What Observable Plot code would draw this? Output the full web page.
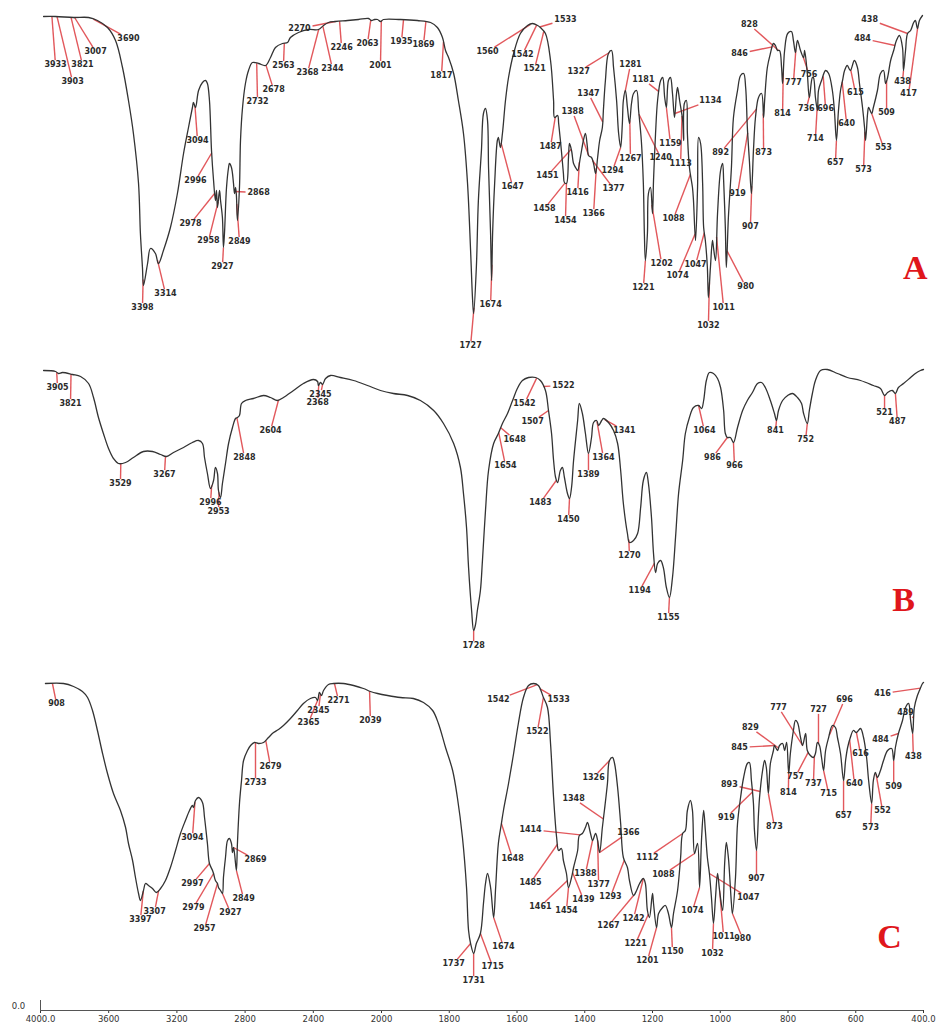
<!DOCTYPE html>
<html><head><meta charset="utf-8">
<script src="https://cdn.jsdelivr.net/npm/d3@7"></script>
<script src="https://cdn.jsdelivr.net/npm/@observablehq/plot@0.6"></script>
<style>body{margin:0;background:#fff}#chart svg{display:block}</style>
</head><body><div id="chart"></div>
<script>
// FTIR spectra: [wavenumber cm-1, transmittance (stacked, arbitrary units)]
const specA = [[3982,99.4],[3912,99.4],[3806,99.3],[3718,99.3],[3666,99.0],[3607,98.3],[3560,97.0],[3519,94.3],[3484,91.0],[3455,87.7],[3425,82.7],[3414,77.7],[3402,74.3],[3396,72.5],[3372,74.7],[3355,76.2],[3326,75.7],[3308,74.7],[3279,76.0],[3238,78.3],[3197,81.7],[3161,85.7],[3132,88.3],[3109,90.3],[3103,90.8],[3091,90.3],[3073,92.0],[3050,92.8],[3032,93.0],[3021,92.7],[3009,91.0],[2997,86.0],[2985,83.0],[2974,81.0],[2968,82.0],[2962,80.3],[2950,82.0],[2944,81.0],[2933,79.3],[2927,76.3],[2921,77.7],[2909,82.3],[2897,84.3],[2892,84.7],[2880,84.3],[2868,82.7],[2862,81.7],[2856,82.3],[2851,81.5],[2845,79.0],[2833,82.3],[2827,87.0],[2815,90.3],[2798,92.7],[2780,94.0],[2757,94.8],[2721,94.7],[2680,94.5],[2651,95.3],[2622,96.3],[2581,96.7],[2551,96.8],[2534,97.3],[2487,97.8],[2428,98.1],[2370,98.1],[2340,98.5],[2311,98.8],[2270,98.9],[2199,99.0],[2135,99.1],[2076,99.2],[2059,99.0],[2041,99.1],[2023,99.1],[2006,98.9],[1994,99.1],[1944,99.1],[1894,99.0],[1855,98.8],[1835,98.3],[1820,97.3],[1811,96.0],[1802,95.3],[1787,93.7],[1773,91.0],[1758,87.7],[1746,82.7],[1737,76.0],[1731,71.0],[1728,69.7],[1720,74.3],[1714,81.0],[1705,86.0],[1699,89.7],[1693,90.2],[1687,89.0],[1684,84.3],[1678,77.7],[1675,73.0],[1672,77.7],[1666,82.7],[1658,87.0],[1655,87.3],[1649,86.3],[1643,87.7],[1634,91.0],[1625,93.3],[1610,95.7],[1590,97.7],[1569,98.5],[1554,98.7],[1539,98.5],[1531,98.3],[1516,97.7],[1501,95.0],[1492,91.0],[1489,89.3],[1480,89.5],[1477,88.7],[1469,86.0],[1463,83.7],[1460,82.8],[1454,82.7],[1448,85.3],[1445,86.7],[1439,86.0],[1433,84.7],[1427,84.3],[1421,84.0],[1413,85.3],[1404,87.0],[1398,87.7],[1392,86.3],[1389,85.5],[1380,85.3],[1374,84.7],[1368,83.7],[1362,85.3],[1356,87.0],[1348,88.3],[1345,90.0],[1339,93.0],[1330,95.7],[1321,96.0],[1315,94.3],[1306,91.0],[1300,87.7],[1294,86.3],[1289,88.7],[1286,91.0],[1280,92.0],[1274,90.3],[1268,88.7],[1262,90.7],[1256,91.7],[1247,92.0],[1241,90.0],[1233,87.0],[1227,82.7],[1224,77.7],[1221,75.0],[1215,77.7],[1212,81.7],[1206,82.3],[1200,79.7],[1197,83.0],[1191,87.7],[1185,91.0],[1176,93.0],[1170,93.3],[1164,91.3],[1159,90.3],[1153,93.0],[1147,93.3],[1141,91.7],[1135,89.3],[1129,91.7],[1126,92.3],[1120,91.0],[1111,89.0],[1108,87.0],[1106,90.7],[1100,91.0],[1097,87.7],[1091,84.3],[1082,82.3],[1079,81.0],[1073,77.0],[1067,82.3],[1064,87.3],[1058,86.7],[1052,82.7],[1049,78.3],[1044,77.0],[1038,74.3],[1035,71.3],[1029,74.3],[1023,77.0],[1020,76.3],[1014,75.0],[1008,79.7],[999,84.0],[993,84.7],[990,83.0],[985,78.3],[982,74.3],[976,79.3],[967,84.3],[961,89.3],[949,92.0],[940,93.5],[931,93.7],[925,92.3],[920,88.3],[914,85.0],[908,81.7],[902,86.0],[896,89.3],[887,91.3],[878,91.7],[872,89.3],[869,91.0],[861,94.3],[852,95.7],[843,96.7],[837,96.5],[831,96.0],[825,96.0],[819,94.3],[816,92.7],[810,96.0],[801,97.7],[790,97.9],[784,97.0],[778,95.8],[772,97.0],[763,96.0],[754,95.3],[751,96.0],[743,93.7],[737,91.3],[728,93.3],[725,93.3],[719,91.3],[713,90.0],[710,92.0],[701,93.0],[689,94.0],[680,93.7],[669,92.0],[663,90.0],[657,87.0],[651,90.0],[645,92.0],[639,93.0],[633,94.0],[625,94.5],[616,94.0],[604,95.0],[595,94.3],[589,92.7],[580,90.3],[574,88.3],[571,87.0],[565,89.7],[562,90.3],[553,89.7],[548,90.3],[536,92.0],[527,93.7],[518,94.0],[512,92.7],[506,93.3],[497,95.0],[488,96.0],[480,97.0],[471,97.5],[462,96.3],[459,94.0],[453,96.0],[447,97.7],[438,98.0],[429,98.8],[424,99.0],[418,98.2],[412,99.0],[403,99.5]];

const specB = [[3982,64.0],[3912,63.9],[3894,63.7],[3871,63.8],[3812,63.6],[3765,63.4],[3718,62.7],[3689,61.3],[3660,59.3],[3631,57.7],[3601,56.2],[3572,55.2],[3543,54.7],[3501,54.8],[3455,55.3],[3396,55.9],[3343,55.9],[3296,55.6],[3261,55.4],[3220,55.8],[3161,56.3],[3109,56.8],[3073,57.0],[3050,56.7],[3038,55.3],[3021,53.7],[3003,52.2],[2985,53.0],[2974,54.3],[2962,53.7],[2956,52.0],[2944,51.3],[2933,52.7],[2915,54.7],[2897,56.7],[2874,58.3],[2856,59.2],[2845,59.3],[2833,59.5],[2821,60.7],[2798,61.0],[2751,61.2],[2692,61.5],[2651,61.3],[2610,61.0],[2575,61.3],[2516,62.0],[2458,62.7],[2399,63.1],[2375,62.9],[2370,62.5],[2358,62.8],[2346,62.6],[2328,63.2],[2299,63.5],[2241,63.3],[2164,63.0],[2082,62.5],[2006,62.0],[1965,61.7],[1923,61.5],[1885,61.0],[1846,60.0],[1817,58.7],[1787,56.7],[1767,54.3],[1758,51.7],[1749,48.3],[1743,44.3],[1734,40.0],[1728,38.0],[1723,38.5],[1717,40.0],[1708,42.0],[1702,45.0],[1693,50.0],[1684,54.0],[1669,56.7],[1655,57.7],[1643,58.7],[1628,59.7],[1613,61.0],[1599,62.2],[1584,63.0],[1566,63.3],[1545,63.3],[1531,63.0],[1516,62.0],[1507,60.0],[1498,57.7],[1492,55.0],[1486,53.3],[1480,52.8],[1472,54.0],[1466,54.3],[1460,53.3],[1451,51.7],[1445,51.2],[1439,52.3],[1433,55.0],[1421,59.0],[1416,60.7],[1407,59.7],[1398,57.7],[1389,55.7],[1380,57.3],[1374,58.8],[1365,59.0],[1359,58.5],[1350,59.0],[1345,59.2],[1330,58.8],[1315,58.0],[1303,56.7],[1294,54.0],[1286,50.7],[1274,47.7],[1268,46.8],[1256,47.0],[1244,47.7],[1235,50.3],[1227,53.0],[1218,53.8],[1212,52.7],[1203,49.3],[1197,45.7],[1191,43.8],[1185,44.7],[1176,45.0],[1168,44.3],[1159,42.3],[1150,41.3],[1141,43.3],[1132,47.3],[1123,51.7],[1111,55.0],[1103,57.7],[1091,59.3],[1079,60.3],[1064,60.5],[1055,60.2],[1049,61.0],[1041,63.0],[1032,63.8],[1020,63.7],[1008,63.2],[999,62.3],[990,60.0],[985,57.7],[979,57.3],[970,57.3],[961,56.8],[949,58.3],[934,60.0],[920,61.0],[905,61.8],[890,62.7],[878,62.8],[867,62.3],[852,61.0],[840,59.7],[834,59.0],[828,60.0],[816,61.0],[801,61.5],[787,61.7],[772,61.3],[760,60.7],[754,59.7],[743,58.7],[737,60.0],[728,61.7],[719,63.0],[704,64.0],[684,64.1],[654,63.7],[625,63.3],[586,63.0],[548,62.5],[527,62.2],[515,61.5],[506,61.8],[492,62.0],[483,61.7],[474,62.3],[459,62.7],[438,63.3],[424,63.7],[409,64.0],[400,64.1]];

const specC = [[3971,32.7],[3865,32.7],[3806,32.4],[3754,31.9],[3724,31.3],[3695,30.0],[3666,28.0],[3636,25.7],[3607,23.7],[3572,21.7],[3531,20.0],[3501,18.3],[3484,16.7],[3460,15.0],[3443,13.3],[3425,11.7],[3414,11.0],[3396,12.0],[3384,12.7],[3367,12.5],[3343,12.2],[3320,11.8],[3296,12.2],[3267,13.0],[3238,14.3],[3208,16.0],[3179,17.7],[3150,19.0],[3126,20.0],[3109,20.5],[3103,20.3],[3091,21.0],[3073,21.3],[3050,20.8],[3038,19.3],[3021,16.7],[3009,14.7],[2991,14.0],[2985,13.7],[2974,13.0],[2962,12.7],[2956,12.3],[2944,12.0],[2933,11.7],[2927,13.3],[2915,15.3],[2903,17.0],[2892,17.2],[2880,16.7],[2874,15.8],[2868,16.3],[2862,15.7],[2851,14.0],[2845,16.7],[2833,20.7],[2821,23.0],[2809,25.0],[2786,26.0],[2768,26.5],[2745,26.8],[2721,26.7],[2692,26.8],[2663,27.3],[2633,27.8],[2604,28.1],[2575,28.5],[2534,29.2],[2493,30.0],[2458,30.7],[2417,31.2],[2387,31.3],[2375,31.0],[2364,31.8],[2352,31.5],[2340,32.0],[2311,32.6],[2282,32.7],[2223,32.7],[2164,32.5],[2106,32.2],[2065,31.9],[2023,31.7],[1982,31.5],[1944,31.3],[1906,31.2],[1876,30.8],[1849,30.0],[1832,28.7],[1811,26.3],[1790,24.0],[1776,21.3],[1761,17.3],[1749,12.3],[1743,8.0],[1737,6.7],[1728,5.7],[1720,6.7],[1708,7.7],[1699,10.7],[1693,12.7],[1687,13.7],[1678,12.3],[1669,9.3],[1663,12.3],[1655,16.7],[1646,18.7],[1640,20.0],[1625,22.7],[1610,25.7],[1596,28.7],[1581,31.3],[1566,32.5],[1551,32.7],[1537,32.5],[1522,31.3],[1510,30.3],[1501,26.7],[1492,21.3],[1483,17.3],[1477,16.0],[1469,16.2],[1463,15.0],[1454,13.7],[1448,12.3],[1439,13.3],[1433,14.3],[1421,16.0],[1416,17.5],[1407,17.7],[1398,18.3],[1392,18.8],[1383,17.7],[1377,17.0],[1368,17.7],[1362,17.0],[1356,15.8],[1348,18.3],[1342,20.0],[1333,22.7],[1327,25.0],[1318,25.3],[1312,24.7],[1303,22.3],[1294,18.7],[1286,15.3],[1274,14.3],[1268,13.0],[1256,11.5],[1247,12.0],[1238,12.7],[1227,13.2],[1221,12.7],[1215,10.0],[1209,9.3],[1200,11.7],[1197,10.7],[1188,8.3],[1182,9.7],[1170,10.3],[1162,10.5],[1153,9.7],[1144,8.3],[1138,9.7],[1126,12.0],[1117,15.3],[1111,17.7],[1103,18.0],[1097,20.0],[1088,21.0],[1082,20.0],[1076,15.7],[1067,16.7],[1061,12.3],[1055,17.3],[1049,20.0],[1044,18.0],[1038,15.3],[1032,13.7],[1026,11.3],[1020,8.7],[1014,11.3],[1008,13.7],[1002,12.0],[993,10.0],[987,14.7],[982,16.8],[976,15.3],[967,10.7],[964,9.7],[955,13.3],[949,18.7],[940,21.3],[931,23.3],[920,24.7],[914,24.8],[908,23.0],[902,20.7],[899,18.0],[893,16.0],[887,19.7],[884,21.3],[875,24.0],[869,25.0],[864,24.3],[858,21.7],[852,24.7],[843,26.0],[840,26.5],[831,26.0],[825,26.5],[816,26.7],[810,26.0],[804,26.8],[798,23.7],[793,25.7],[784,28.0],[778,29.0],[772,28.8],[763,27.3],[757,26.5],[748,27.7],[743,26.0],[734,25.5],[725,25.3],[719,25.7],[713,26.8],[707,26.5],[701,25.3],[695,24.0],[689,26.0],[680,27.3],[669,28.5],[660,28.3],[654,27.3],[645,25.7],[636,23.0],[630,25.0],[624,26.3],[616,27.3],[607,28.0],[598,27.8],[586,28.2],[577,27.3],[568,25.3],[562,23.0],[553,20.7],[548,23.0],[542,23.8],[536,23.3],[527,24.0],[518,25.0],[506,26.0],[494,26.2],[488,25.0],[483,26.3],[474,27.7],[462,29.0],[453,30.3],[444,30.7],[438,29.0],[432,27.7],[427,30.3],[418,31.5],[412,32.0],[403,32.7],[400,32.8]];

// Peak labels: [text, wavenumber where the leader meets the curve, label wavenumber, label transmittance]
const labelsA = [["3933",3933,3912,94.6],["3903",3903,3812,92.9],["3821",3821,3754,94.6],["3007",3800,3677,95.9],["3690",3690,3484,97.2],["3398",3398,3402,70.3],["3314",3314,3267,71.7],["3094",3094,3079,87.0],["2996",2996,3091,83.0],["2978",2978,3120,78.7],["2958",2958,3015,77.0],["2927",2927,2933,74.4],["2849",2849,2833,76.9],["2868",2860,2721,81.8],["2732",2732,2727,90.9],["2678",2678,2633,92.1],["2563",2570,2575,94.5],["2368",2368,2434,93.8],["2270",2270,2481,98.2],["2246",2246,2234,96.3],["2344",2344,2288,94.2],["2063",2063,2082,96.7],["2001",2001,2006,94.5],["1935",1935,1941,96.9],["1869",1869,1876,96.6],["1817",1817,1823,93.5],["1727",1727,1737,66.5],["1674",1674,1678,70.6],["1647",1647,1613,82.4],["1560",1560,1687,95.9],["1542",1542,1584,95.6],["1521",1521,1548,94.2],["1533",1533,1457,99.1],["1487",1487,1501,86.4],["1451",1440,1510,83.5],["1458",1458,1519,80.2],["1454",1454,1457,79.0],["1416",1416,1421,81.8],["1388",1388,1436,89.9],["1366",1366,1374,79.7],["1377",1377,1315,82.2],["1347",1347,1389,91.7],["1327",1327,1418,93.9],["1294",1294,1318,84.0],["1281",1281,1265,94.6],["1267",1267,1265,85.2],["1240",1240,1176,85.3],["1221",1221,1227,72.3],["1202",1202,1173,74.7],["1181",1181,1227,93.1],["1159",1159,1147,86.7],["1134",1134,1029,91.0],["1113",1113,1117,84.7],["1088",1088,1138,79.2],["1074",1074,1126,73.5],["1047",1047,1073,74.6],["1032",1032,1035,68.5],["1011",1011,990,70.3],["980",980,925,72.4],["919",919,949,81.7],["907",907,911,78.4],["892",892,999,85.8],["873",873,872,85.8],["846",846,943,95.7],["828",828,914,98.6],["814",814,816,89.7],["777",777,784,92.8],["756",756,738,93.6],["736",736,746,90.2],["696",696,689,90.2],["714",714,719,87.2],["657",657,660,84.8],["640",640,627,88.7],["615",615,601,91.8],["573",573,577,84.1],["553",553,518,86.3],["509",509,509,89.8],["484",484,580,97.2],["438",447,559,99.1],["438",459,462,92.9],["417",417,444,91.7]];

const labelsB = [["3905",3905,3900,62.3],["3821",3821,3824,60.7],["3529",3529,3531,52.7],["3267",3267,3273,53.6],["2996",2996,3003,50.8],["2953",2953,2956,49.9],["2848",2848,2804,55.3],["2604",2604,2651,58.0],["2345",2345,2358,61.6],["2368",2368,2375,60.8],["1728",1728,1728,36.5],["1654",1654,1634,54.5],["1648",1648,1607,57.1],["1542",1542,1578,60.7],["1522",1522,1463,62.5],["1507",1507,1554,58.9],["1483",1483,1531,50.8],["1450",1445,1448,49.1],["1389",1389,1389,53.6],["1364",1364,1345,55.3],["1341",1341,1283,58.0],["1270",1270,1268,45.5],["1194",1194,1238,42.0],["1155",1150,1153,39.3],["1064",1064,1047,58.0],["986",979,1023,55.3],["966",961,958,54.5],["841",834,837,58.0],["752",743,748,57.1],["521",515,515,59.8],["487",483,477,58.9]];

const labelsC = [["908",3930,3906,30.7],["3397",3397,3414,9.1],["3307",3307,3331,9.9],["3094",3094,3109,17.3],["2997",3009,3109,12.7],["2979",2985,3103,10.3],["2957",2962,3038,8.2],["2927",2933,2886,9.8],["2849",2851,2809,11.2],["2869",2868,2739,15.1],["2733",2739,2739,22.8],["2679",2679,2651,24.4],["2365",2375,2428,28.8],["2345",2358,2370,30.0],["2271",2276,2252,31.0],["2039",2070,2065,29.0],["1737",1737,1787,4.7],["1731",1728,1728,3.0],["1715",1708,1672,4.4],["1674",1669,1640,6.4],["1648",1646,1613,15.2],["1542",1542,1655,31.1],["1533",1533,1477,31.1],["1522",1522,1540,27.9],["1326",1326,1374,23.3],["1348",1345,1433,21.2],["1414",1413,1560,18.1],["1366",1356,1271,17.8],["1485",1480,1560,12.8],["1388",1377,1398,13.7],["1377",1362,1359,12.6],["1461",1451,1531,10.4],["1454",1448,1454,10.0],["1439",1436,1404,11.1],["1293",1283,1324,11.4],["1267",1256,1330,8.5],["1242",1227,1256,9.2],["1221",1212,1250,6.7],["1201",1188,1215,5.0],["1150",1144,1141,5.9],["1112",1111,1215,15.3],["1088",1076,1168,13.6],["1074",1061,1082,10.0],["1047",1032,917,11.3],["1032",1020,1023,5.7],["1011",1002,990,7.4],["980",964,934,7.2],["907",893,893,13.2],["919",905,982,19.3],["893",882,973,22.6],["873",858,840,18.4],["845",840,943,26.3],["829",828,911,28.3],["814",798,799,21.8],["777",757,828,30.3],["757",740,778,23.4],["727",710,710,30.1],["737",722,725,22.7],["715",695,680,21.7],["696",678,633,31.1],["657",636,636,19.5],["640",618,604,22.7],["616",598,586,25.7],["573",553,556,18.3],["552",540,521,20.0],["509",488,488,22.4],["484",474,527,27.1],["439",429,453,29.8],["438",432,430,25.4],["416",409,521,31.7]];

const panelNames = ["A", "B", "C"];
const panelNameAt = [[424, 74.2], [459, 41.0], [500, 7.3]];
const xTicks = [4000, 3600, 3200, 2800, 2400, 2000, 1800, 1600, 1400, 1200, 1000, 800, 600, 400];

// ---- scales (FTIR instrument axis: scale halves at 2000 cm-1)
const X = {type: "linear", domain: [4000, 2000, 400], range: [40, 381, 923]};
const Y = {type: "linear", domain: [0, 100], range: [1010, 10]};
const gx = d3.scaleLinear().domain(X.domain).range(X.range);
const gy = d3.scaleLinear().domain(Y.domain).range(Y.range);
const FS = 8;

function interp(spec, w) {
  for (let i = 0; i < spec.length - 1; i++) {
    const [w0, v0] = spec[i], [w1, v1] = spec[i + 1];
    if (w <= w0 && w >= w1) return v0 + (v1 - v0) * ((w0 - w) / ((w0 - w1) || 1));
  }
  return w > spec[0][0] ? spec[0][1] : spec[spec.length - 1][1];
}

function buildLabels(spec, labels) {
  return labels.map(([text, aw, tw, tv]) => {
    const av = interp(spec, aw);
    const ptx = gx(tw), pty = gy(tv), pax = gx(aw), pay = gy(av);
    const dx = pax - ptx, dy = pay - pty;
    const hw = text.length * FS * 0.36 + 1.5, hh = FS * 0.55;
    let t = Math.min(dx ? hw / Math.abs(dx) : Infinity, dy ? hh / Math.abs(dy) : Infinity);
    if (!(t < 1)) t = 1;
    return {text, ax: aw, av, tx: tw, tv, ex: gx.invert(ptx + dx * t), ev: gy.invert(pty + dy * t)};
  });
}

const labelRows = [
  ...buildLabels(specA, labelsA),
  ...buildLabels(specB, labelsB),
  ...buildLabels(specC, labelsC)
];
const letters = panelNames.map((n, i) => ({n, x: panelNameAt[i][0], y: panelNameAt[i][1]}));

const lineOpts = {x: d => d[0], y: d => d[1], stroke: "#333", strokeWidth: 1.3, curve: "catmull-rom"};

const chart = Plot.plot({
  width: 943, height: 1024,
  marginTop: 0, marginBottom: 14, marginLeft: 40, marginRight: 20,
  x: {...X, ticks: xTicks, tickSize: 3, tickPadding: 2,
      tickFormat: d => d === 4000 ? "4000.0" : d === 400 ? "400.0" : String(d), label: null},
  y: {...Y, axis: null},
  style: {background: "white", fontFamily: "DejaVu Sans", fontSize: "8.5px", color: "#333"},
  marks: [
    Plot.link(labelRows, {x1: "ax", y1: "av", x2: "ex", y2: "ev", stroke: "#e2585c", strokeWidth: 1.4}),
    Plot.line(specA, lineOpts),
    Plot.line(specB, lineOpts),
    Plot.line(specC, lineOpts),
    Plot.text(labelRows, {x: "tx", y: "tv", text: "text", fontSize: FS, fontWeight: "bold", fill: "#2b2b2b"}),
    Plot.text(letters, {x: "x", y: "y", text: "n", fontFamily: "Liberation Serif", fontWeight: "bold",
      fontSize: 34, fill: "#e0161b"}),
    Plot.ruleY([0], {x1: 4000, x2: 400, stroke: "#555", strokeWidth: 1}),
    Plot.ruleX([4000], {y1: 0, y2: 1, stroke: "#555"}),
    Plot.text(["0.0"], {x: 4000, y: 0, text: d => d, dx: -22, dy: -4, fontSize: 8.5, fill: "#333"})
  ]
});
document.getElementById("chart").append(chart);
</script>
</body></html>
